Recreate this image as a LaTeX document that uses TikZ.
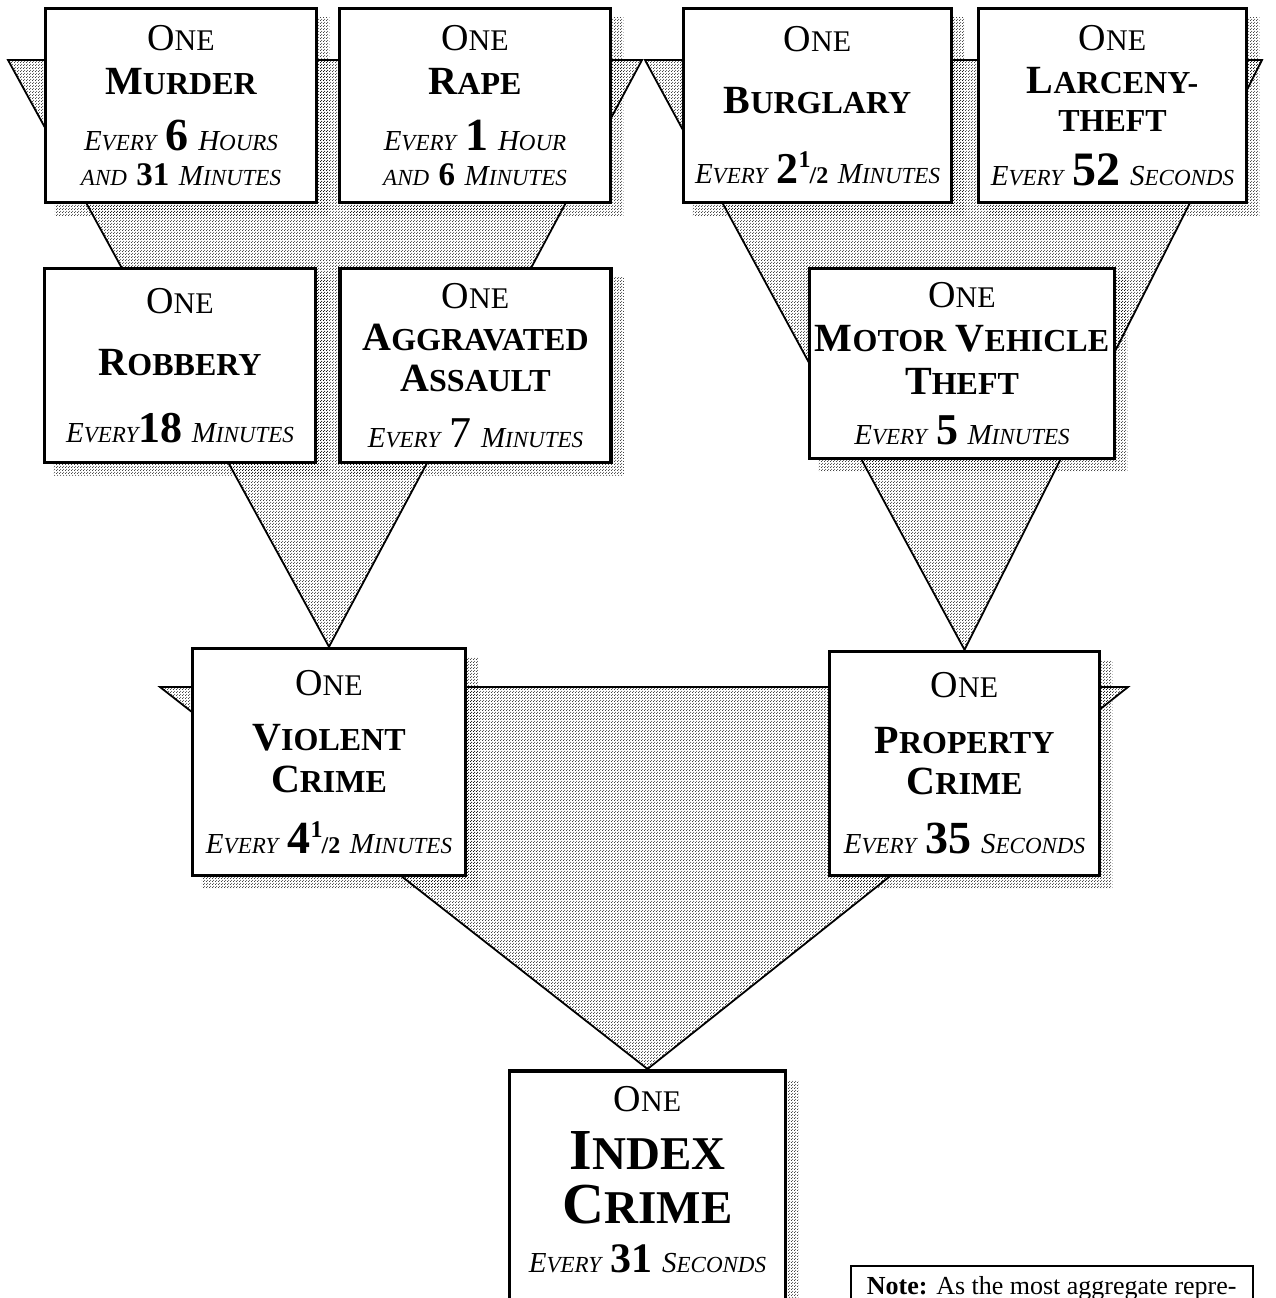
\documentclass[tikz,border=0pt]{standalone}
\usepackage{fontspec}
\setmainfont{Liberation Serif}
\usetikzlibrary{patterns}

% small capitals put together by hand
\newcommand\one{{\fontsize{38}{38}\selectfont O\fontsize{30}{30}\selectfont NE}}
\newcommand\cname[2]{{\bfseries\fontsize{40}{40}\selectfont #1\fontsize{32}{32}\selectfont #2}}
\newcommand\bigname[2]{{\bfseries\fontsize{58}{58}\selectfont #1\fontsize{47}{47}\selectfont #2}}
\newcommand\every[2]{{\itshape\fontsize{29}{29}\selectfont #1\fontsize{23}{23}\selectfont #2}}
\newcommand\nr[2]{{\bfseries\fontsize{#1}{#1}\selectfont #2}}
\newcommand\half{{\bfseries\fontsize{24}{24}\selectfont\raisebox{16pt}{1}\kern-1pt/2}}

% screen of the grey areas
\pgfdeclarepatternformonly{halftone dots}{\pgfqpoint{-.75pt}{-.75pt}}{\pgfqpoint{2.25pt}{2.25pt}}{\pgfqpoint{3pt}{3pt}}{%
  \pgfpathcircle{\pgfqpoint{0pt}{0pt}}{.65pt}%
  \pgfpathcircle{\pgfqpoint{1.5pt}{1.5pt}}{.65pt}%
  \pgfusepath{fill}}

\pgfdeclarelayer{background}
\pgfsetlayers{background,main}

\begin{document}
\begin{tikzpicture}[x=1pt, y=-1pt,
    crime/.style={draw, line width=3.5pt, fill=white, align=center, inner sep=0pt,
      minimum width=271, minimum height=194, font=\fontsize{38}{28}\selectfont},
    halftone/.style={pattern=halftone dots, pattern color=black},
    funnel/.style={halftone, draw, line width=1.8pt},
    note/.style={draw, line width=1.5pt, fill=white, inner xsep=12, inner ysep=11,
      font=\fontsize{26}{30}\selectfont}
]
    \useasboundingbox (0,0) rectangle (1275,1298);
    \clip (0,0) rectangle (1275,1298);

    % first row
    \node[crime] (murder) at (181,105.5) {\one\\[16pt]
        \cname{M}{URDER}\\[24pt]
        \every{E}{VERY} \nr{46}{6} \every{H}{OURS}\\[7pt]
        \every{}{AND} \nr{33}{31} \every{M}{INUTES}};
    \node[crime] (rape) at (475,105.5) {\one\\[16pt]
        \cname{R}{APE}\\[24pt]
        \every{E}{VERY} \nr{46}{1} \every{H}{OUR}\\[7pt]
        \every{}{AND} \nr{33}{6} \every{M}{INUTES}};
    \node[crime, minimum width=268] (burglary) at (817.5,105.5) {\one\\[34pt]
        \cname{B}{URGLARY}\\[37pt]
        \every{E}{VERY} \nr{44}{2}\half\ \every{M}{INUTES}};
    \node[crime, minimum width=268] (larceny) at (1112.5,105.5) {\one\\[15pt]
        \cname{L}{ARCENY-}\\[10pt]
        \cname{}{THEFT}\\[21pt]
        \every{E}{VERY} \nr{48}{52} \every{S}{ECONDS}};

    % second row
    \node[crime] (robbery) at (180,365.5) {\one\\[34pt]
        \cname{R}{OBBERY}\\[37pt]
        \every{E}{VERY}\nr{44}{18} \every{M}{INUTES}};
    \node[crime] (aggravated) at (475.5,365.5) {\one\\[14pt]
        \cname{A}{GGRAVATED}\\[13pt]
        \cname{A}{SSAULT}\\[26pt]
        \every{E}{VERY} {\fontsize{44}{44}\selectfont 7} \every{M}{INUTES}};
    \node[crime, minimum width=305, minimum height=190] (motor) at (962,363.5) {\one\\[16pt]
        \cname{M}{OTOR} \cname{V}{EHICLE}\\[15pt]
        \cname{T}{HEFT}\\[20pt]
        \every{E}{VERY} \nr{44}{5} \every{M}{INUTES}};

    % third row
    \node[crime, minimum width=273, minimum height=227] (violent) at (329,762) {\one\\[27pt]
        \cname{V}{IOLENT}\\[14pt]
        \cname{C}{RIME}\\[27pt]
        \every{E}{VERY} \nr{46}{4}\half\ \every{M}{INUTES}};
    \node[crime, minimum width=270, minimum height=224] (property) at (964.5,763.5) {\one\\[28pt]
        \cname{P}{ROPERTY}\\[13pt]
        \cname{C}{RIME}\\[27pt]
        \every{E}{VERY} \nr{46}{35} \every{S}{ECONDS}};

    % bottom, runs off the page
    \node[crime, anchor=north, minimum width=276, minimum height=0, inner ysep=16]
        (index) at (647.5,1069) {\one\\[18pt]
        \bigname{I}{NDEX}\\[15pt]
        \bigname{C}{RIME}\\[19pt]
        \every{E}{VERY} \nr{42}{31} \every{S}{ECONDS}\\[40pt]};
    \node[note, anchor=north west, minimum width=402] (note) at (850,1265)
        {\textbf{Note:} As the most aggregate repre-};

    \coordinate (vl) at (8,60);
    \coordinate (vr) at (642,60);
    \coordinate (pl) at (645,60);
    \coordinate (pr) at (1262,60);
    \coordinate (il) at (160,687);
    \coordinate (ir) at (1128,687);

    \begin{pgfonlayer}{background}
        \foreach \b in {murder,rape,burglary,larceny,robbery,aggravated,motor,violent,property,index}
            \fill[halftone] ([shift={(11,11)}]\b.north west) rectangle ([shift={(11,11)}]\b.south east);
        \draw[funnel] (vl) -- (vr) -- (violent.north) -- cycle;
        \draw[funnel] (pl) -- (pr) -- (property.north) -- cycle;
        \draw[funnel] (il) -- (ir) -- (index.north) -- cycle;
    \end{pgfonlayer}
\end{tikzpicture}
\end{document}
